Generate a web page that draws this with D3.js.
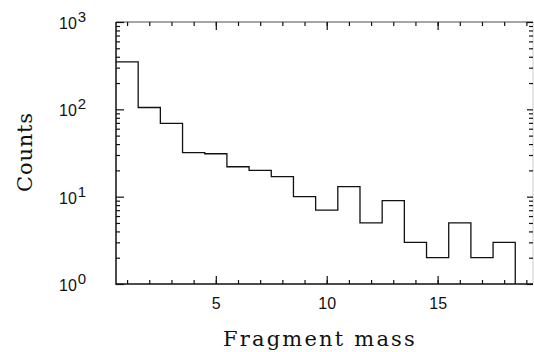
<!DOCTYPE html>
<html>
<head>
<meta charset="utf-8">
<script src="https://cdn.jsdelivr.net/npm/d3@7"></script>
<style>
  body { margin: 0; background: #fff; }
  svg { display: block; }
  .tick line { stroke: #111; stroke-width: 1.2; }
  .lbl { font-family: 'Liberation Sans', Arial, sans-serif; font-size: 16px; fill: #111; }
  .title { font-family: 'DejaVu Serif', serif; font-size: 21px; fill: #111; }
</style>
</head>
<body>
<svg width="534" height="352"></svg>
<script>
'use strict'

// bin centres (fragment mass) and counts
const masses = [1, 2, 3, 4, 5, 6, 7, 8, 9, 10, 11, 12, 13, 14, 15, 16, 17, 18]
const counts = [350, 105, 69, 32, 31, 22, 20, 17, 10, 7, 13, 5, 9, 3, 2, 5, 2, 3]
const xMajor = [5, 10, 15]
const xMinor = d3.range(1, 20)
const yMajor = [1, 10, 100, 1000]
const yExp = ['0', '1', '2', '3']

const svg = d3.select('svg')
const pLeft = 116, pRight = 533, pTop = 22, pBottom = 284

const x = d3.scaleLinear().domain([0.5, 19.3]).range([pLeft, pRight])
const y = d3.scaleLog().domain([1, 1000]).range([pBottom, pTop])

const yMinor = []
yMajor.slice(0, -1).forEach(d => { for (let k = 2; k < 10; k++) yMinor.push(d * k) })

// frame
svg.append('line').attr('x1', pLeft).attr('x2', pRight).attr('y1', pTop).attr('y2', pTop)
    .attr('stroke', '#888').attr('stroke-width', 1.6)
svg.append('line').attr('x1', pRight).attr('x2', pRight).attr('y1', pTop).attr('y2', pBottom)
    .attr('stroke', '#ccc').attr('stroke-width', 1)

const axisGroup = (axis, tx, ty) => {
    const g = svg.append('g').attr('transform', `translate(${tx},${ty})`).call(axis)
    g.select('.domain').remove()
    return g
}

// bottom ticks
axisGroup(d3.axisBottom(x).tickValues(xMinor).tickSize(-4).tickFormat(''), 0, pBottom)
axisGroup(d3.axisBottom(x).tickValues(xMajor).tickSize(-8).tickPadding(14).tickFormat(d3.format('d')), 0, pBottom)
    .attr('font-size', null).attr('font-family', null)
    .selectAll('text').attr('class', 'lbl')
// top ticks
axisGroup(d3.axisTop(x).tickValues(xMinor).tickSize(-4).tickFormat(''), 0, pTop)
axisGroup(d3.axisTop(x).tickValues(xMajor).tickSize(-8).tickFormat(''), 0, pTop)
// left ticks
axisGroup(d3.axisLeft(y).tickValues(yMinor).tickSize(-4).tickFormat(''), pLeft, 0)
axisGroup(d3.axisLeft(y).tickValues(yMajor).tickSize(-8).tickFormat(''), pLeft, 0)
// right ticks
axisGroup(d3.axisRight(y).tickValues(yMinor).tickSize(-4).tickFormat(''), pRight, 0)
    .selectAll('line').attr('stroke', '#aaa')
axisGroup(d3.axisRight(y).tickValues(yMajor).tickSize(-6).tickFormat(''), pRight, 0)
    .selectAll('line').attr('stroke', '#999')

// y labels with exponents
const yl = svg.append('g').selectAll('text').data(yMajor).enter().append('text')
    .attr('class', 'lbl')
    .attr('x', 59)
    .attr('y', d => y(d) + 7)
yl.append('tspan').text('10')
yl.append('tspan').text((d, i) => yExp[i]).attr('dy', -7).attr('dx', 1).attr('font-size', 15)

// left and bottom axis lines
svg.append('path')
    .attr('d', `M${pLeft},${pTop}V${pBottom}H${pRight}`)
    .attr('fill', 'none').attr('stroke', '#111').attr('stroke-width', 1.5)

// histogram
const pts = masses.map((m, i) => [m - 0.5, counts[i]])
pts.push([masses[masses.length - 1] + 0.5, 1])
const line = d3.line().x(d => x(d[0])).y(d => y(d[1])).curve(d3.curveStepAfter)
svg.append('path')
    .datum(pts)
    .attr('d', line)
    .attr('fill', 'none')
    .attr('stroke', '#111')
    .attr('stroke-width', 1.3)

// axis titles
svg.append('text').attr('class', 'title')
    .attr('x', 320).attr('y', 346)
    .attr('text-anchor', 'middle')
    .attr('letter-spacing', 2.2)
    .text('Fragment mass')
svg.append('text').attr('class', 'title')
    .attr('transform', 'translate(32,152) rotate(-90)')
    .attr('text-anchor', 'middle')
    .attr('letter-spacing', 0.8)
    .text('Counts')
</script>
</body>
</html>
